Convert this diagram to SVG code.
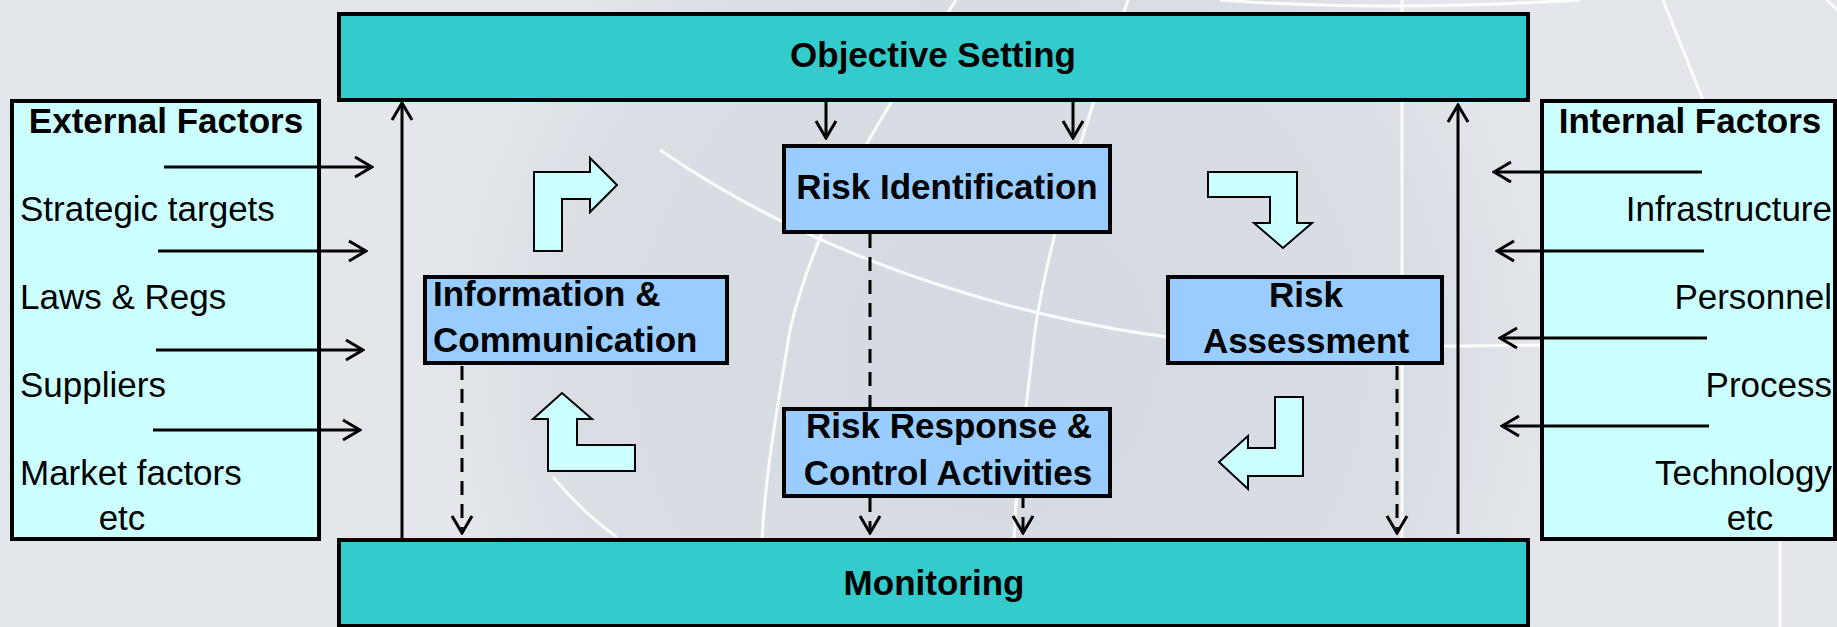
<svg xmlns="http://www.w3.org/2000/svg" width="1837" height="627" viewBox="0 0 1837 627">
<defs>
<radialGradient id="bgsph" cx="1000" cy="360" r="560" gradientUnits="userSpaceOnUse">
<stop offset="0" stop-color="#d5d9e1"/>
<stop offset="0.75" stop-color="#d9dde4"/>
<stop offset="1" stop-color="#e3e6eb"/>
</radialGradient>
<marker id="ah" viewBox="-20 -12 22 24" refX="0" refY="0" markerWidth="22" markerHeight="24" markerUnits="userSpaceOnUse" orient="auto">
<path d="M -17 -10 L 0 0 L -17 10" fill="none" stroke="#000" stroke-width="3"/>
</marker>
</defs>
<style>
.band{fill:#33cccc;stroke:#000;stroke-width:4}
.step{fill:#99ccff;stroke:#000;stroke-width:4}
.side{fill:#ccffff;stroke:#000;stroke-width:4}
.blk{fill:#ccffff;stroke:#000;stroke-width:2;stroke-linejoin:miter}
.bt{font-family:"Liberation Sans",Arial,sans-serif;font-weight:bold;font-size:35px;fill:#000}
.rt{font-family:"Liberation Sans",Arial,sans-serif;font-size:35px;fill:#000}
.sol{stroke:#000;stroke-width:3;fill:none}
.dsh{stroke:#000;stroke-width:3;fill:none;stroke-dasharray:14 9}
.bgl{stroke:#fff;stroke-width:3;fill:none;opacity:0.9}
</style>
<g id="background">
<rect x="0" y="0" width="1837" height="627" fill="#e3e6eb"/>
<rect x="0" y="0" width="1837" height="627" fill="url(#bgsph)"/>
<path class="bgl" d="M 956 0 C 900 90 820 200 790 330 C 775 420 765 480 762 540"/>
<path class="bgl" d="M 1128 0 C 1090 110 1050 230 1035 330 C 1025 420 1016 480 1014 540"/>
<path class="bgl" d="M 660 150 C 820 260 1050 340 1300 348 L 1545 345"/>
<path class="bgl" d="M 1220 0 Q 1380 12 1580 0"/>
<path class="bgl" d="M 1402 0 L 1402 540"/>
<path class="bgl" d="M 1663 0 L 1703 100"/>
<path class="bgl" d="M 1827 0 L 1837 10"/>
<path class="bgl" d="M 1780 540 L 1780 627"/>
<path class="bgl" d="M 553 477 Q 585 515 617 537"/>
</g>
<g id="cycle-arrows">
<polygon class="blk" points="534,251 534,172 590,172 590,158 617,185 590,212 590,199 562,199 562,251"/>
<polygon class="blk" points="1208,172 1297,172 1297,223 1312,223 1283,248 1254,223 1270,223 1270,197 1208,197"/>
<polygon class="blk" points="1275,397 1303,397 1303,476 1248,476 1248,489 1219,462 1248,436 1248,448 1275,448"/>
<polygon class="blk" points="635,445 577,445 577,419 592,419 562,393 533,419 548,419 548,471 635,471"/>
</g>
<g id="objective-setting">
<rect class="band" x="339" y="14" width="1189" height="86"/>
<text class="bt" x="933" y="67" text-anchor="middle">Objective Setting</text>
</g>
<g id="monitoring">
<rect class="band" x="339" y="540" width="1189" height="86"/>
<text class="bt" x="934" y="595" text-anchor="middle">Monitoring</text>
</g>
<g id="external-factors">
<rect class="side" x="12" y="101" width="307" height="438"/>
<text class="bt" x="166" y="133" text-anchor="middle">External Factors</text>
<text class="rt" x="20" y="221">Strategic targets</text>
<text class="rt" x="20" y="309">Laws &amp; Regs</text>
<text class="rt" x="20" y="397">Suppliers</text>
<text class="rt" x="20" y="485">Market factors</text>
<text class="rt" x="122" y="530" text-anchor="middle">etc</text>
</g>
<g id="internal-factors">
<rect class="side" x="1542" y="101" width="293" height="438"/>
<text class="bt" x="1690" y="133" text-anchor="middle">Internal Factors</text>
<text class="rt" x="1832" y="221" text-anchor="end">Infrastructure</text>
<text class="rt" x="1832" y="309" text-anchor="end">Personnel</text>
<text class="rt" x="1832" y="397" text-anchor="end">Process</text>
<text class="rt" x="1832" y="485" text-anchor="end">Technology</text>
<text class="rt" x="1750" y="530" text-anchor="middle">etc</text>
</g>
<g id="risk-identification">
<rect class="step" x="784" y="146" width="326" height="86"/>
<text class="bt" x="947" y="199" text-anchor="middle">Risk Identification</text>
</g>
<g id="risk-response">
<rect class="step" x="784" y="409" width="326" height="87"/>
<text class="bt" x="949" y="438" text-anchor="middle">Risk Response &amp;</text>
<text class="bt" x="948" y="485" text-anchor="middle">Control Activities</text>
</g>
<g id="information-communication">
<rect class="step" x="425" y="277" width="302" height="86"/>
<text class="bt" x="433" y="306">Information &amp;</text>
<text class="bt" x="433" y="352">Communication</text>
</g>
<g id="risk-assessment">
<rect class="step" x="1168" y="277" width="274" height="86"/>
<text class="bt" x="1306" y="307" text-anchor="middle">Risk</text>
<text class="bt" x="1306" y="353" text-anchor="middle">Assessment</text>
</g>
<g id="connectors">
<line class="sol" x1="164" y1="167" x2="372" y2="167" marker-end="url(#ah)"/>
<line class="sol" x1="158" y1="251" x2="366" y2="251" marker-end="url(#ah)"/>
<line class="sol" x1="156" y1="350" x2="363" y2="350" marker-end="url(#ah)"/>
<line class="sol" x1="153" y1="430" x2="360" y2="430" marker-end="url(#ah)"/>
<line class="sol" x1="1702" y1="172" x2="1494" y2="172" marker-end="url(#ah)"/>
<line class="sol" x1="1704" y1="251" x2="1497" y2="251" marker-end="url(#ah)"/>
<line class="sol" x1="1707" y1="338" x2="1500" y2="338" marker-end="url(#ah)"/>
<line class="sol" x1="1709" y1="426" x2="1502" y2="426" marker-end="url(#ah)"/>
<line class="sol" x1="402" y1="538" x2="402" y2="103" marker-end="url(#ah)"/>
<line class="sol" x1="1458" y1="534" x2="1458" y2="105" marker-end="url(#ah)"/>
<line class="sol" x1="826" y1="100" x2="826" y2="138" marker-end="url(#ah)"/>
<line class="sol" x1="1073" y1="100" x2="1073" y2="138" marker-end="url(#ah)"/>
<line class="dsh" x1="462" y1="366" x2="462" y2="533" marker-end="url(#ah)"/>
<line class="dsh" x1="870" y1="234" x2="870" y2="407"/>
<line class="dsh" x1="870" y1="498" x2="870" y2="533" marker-end="url(#ah)"/>
<line class="dsh" x1="1023" y1="494" x2="1023" y2="533" marker-end="url(#ah)"/>
<line class="dsh" x1="1397" y1="366" x2="1397" y2="533" marker-end="url(#ah)"/>
</g>
</svg>
